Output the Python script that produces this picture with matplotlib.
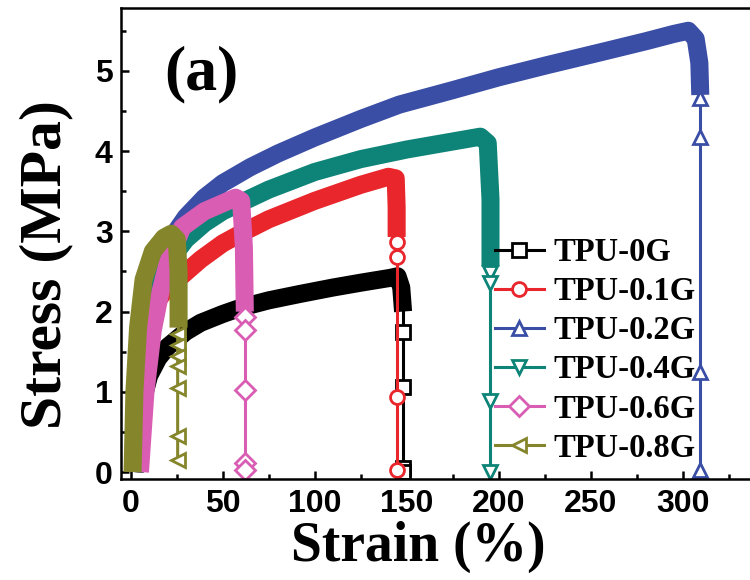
import matplotlib
matplotlib.use('Agg')
import matplotlib.pyplot as plt
from matplotlib.ticker import MultipleLocator

plt.rcParams['font.family'] = ['Liberation Serif', 'DejaVu Serif']

labels = ['TPU-0G', 'TPU-0.1G', 'TPU-0.2G', 'TPU-0.4G', 'TPU-0.6G', 'TPU-0.8G']
colors = ['#000000', '#e8262b', '#3b4ea6', '#0e8478', '#d95db3', '#85862c']
markers = ['s', 'o', '^', 'v', 'D', '<']

# dense part of each curve (markers so close they merge into a band)
band_x = [
    [2, 4, 6, 10, 15, 20, 30, 38, 50, 60, 75, 92, 110, 125, 141, 145, 147, 148],
    [2, 4, 6, 10, 15, 20, 28, 38, 50, 62, 75, 100, 125, 140, 144, 144.5, 144.5],
    [2, 4, 6, 10, 15, 20, 30, 40, 50, 65, 80, 100, 125, 146, 175, 200, 226, 255, 280, 295, 303, 307, 309, 309.5],
    [2, 4, 6, 10, 15, 20, 30, 40, 50, 75, 100, 125, 150, 175, 190, 194, 195.5, 195.5],
    [5, 8, 12, 16, 20, 28, 40, 50, 57, 60, 61.5, 62],
    [1, 2, 4, 7, 12, 18, 22, 25, 26, 26],
]
band_y = [
    [0, 0.55, 0.85, 1.2, 1.42, 1.56, 1.75, 1.86, 1.97, 2.05, 2.14, 2.22, 2.30, 2.36, 2.42, 2.44, 2.3, 2.0],
    [0, 0.9, 1.4, 1.9, 2.15, 2.3, 2.45, 2.65, 2.85, 3.0, 3.15, 3.38, 3.58, 3.68, 3.66, 3.3, 2.93],
    [0, 1.0, 1.6, 2.25, 2.6, 2.85, 3.18, 3.42, 3.6, 3.8, 3.97, 4.17, 4.4, 4.58, 4.76, 4.92, 5.07, 5.23, 5.37, 5.46, 5.5, 5.4, 5.1, 4.7],
    [0, 1.1, 1.7, 2.2, 2.45, 2.6, 2.9, 3.1, 3.25, 3.52, 3.74, 3.9, 4.02, 4.12, 4.18, 4.1, 3.4, 2.56],
    [0, 1.0, 1.77, 2.23, 2.6, 3.05, 3.25, 3.35, 3.42, 3.38, 2.8, 2.0],
    [0, 1.0, 1.8, 2.4, 2.75, 2.92, 2.97, 2.9, 2.5, 1.8],
]
# sparse points after fracture
drop_x = [148, 144.5, 309.5, 195.5, 62, 25.5]
drop_y = [
    [1.75, 1.06, 0.05, 0],
    [2.87, 2.68, 0.93, 0.02],
    [4.66, 4.18, 1.25, 0.03],
    [2.48, 2.36, 0.88, 0],
    [1.93, 1.77, 1.02, 0.11, 0.02],
    [1.72, 1.58, 1.45, 1.32, 1.05, 0.45, 0.15],
]

fig = plt.figure(figsize=(7.5, 5.8), dpi=100)
ax = fig.add_axes([0.1613, 0.1741, 0.8595, 0.8116])

for i in range(len(labels)):
    ax.plot(band_x[i], band_y[i], color=colors[i], lw=13,
            solid_joinstyle='round', solid_capstyle='butt')
    xs = [band_x[i][-1]] + [drop_x[i]] * len(drop_y[i])
    ys = [band_y[i][-1]] + drop_y[i]
    ax.plot(xs, ys, color=colors[i], lw=2.2, marker=markers[i], ms=10,
            mfc='white', mec=colors[i], mew=2, markevery=slice(1, None),
            label=labels[i])

ax.set_xlim(-5.3, 345)
ax.set_ylim(-0.087, 5.78)
ax.xaxis.set_major_locator(MultipleLocator(50))
ax.xaxis.set_minor_locator(MultipleLocator(25))
ax.yaxis.set_major_locator(MultipleLocator(1))
ax.yaxis.set_minor_locator(MultipleLocator(0.5))
ax.tick_params(which='both', direction='in', width=1.8, top=False, right=False)
ax.tick_params(which='major', length=6, labelsize=23)
ax.tick_params(axis='y', which='major', pad=6)
ax.tick_params(axis='x', which='major', pad=7)
ax.tick_params(which='minor', length=3.5)
for lab in ax.get_xticklabels() + ax.get_yticklabels():
    lab.set_family('Liberation Sans')
    lab.set_fontweight('bold')
for s in ax.spines.values():
    s.set_linewidth(1.8)

ax.set_xlabel('Strain (%)', fontsize=40, fontweight='bold')
ax.set_ylabel('Stress (MPa)', fontsize=43, fontweight='bold')
ax.xaxis.set_label_coords(0.462, -0.088)
ax.yaxis.set_label_coords(-0.074, 0.455)

ax.text(0.125, 0.86, '(a)', transform=ax.transAxes, fontsize=46,
        fontweight='bold', ha='center', va='center')

ax.legend(loc='upper left', bbox_to_anchor=(495 / 750, 1 - 237 / 580),
          bbox_transform=fig.transFigure, frameon=False, numpoints=1,
          prop={'family': 'Liberation Serif', 'weight': 'bold', 'size': 23.5},
          handlelength=1.5, handletextpad=0.3, labelspacing=0.25,
          borderpad=0, borderaxespad=0)

fig.savefig('out.png', dpi=100)
